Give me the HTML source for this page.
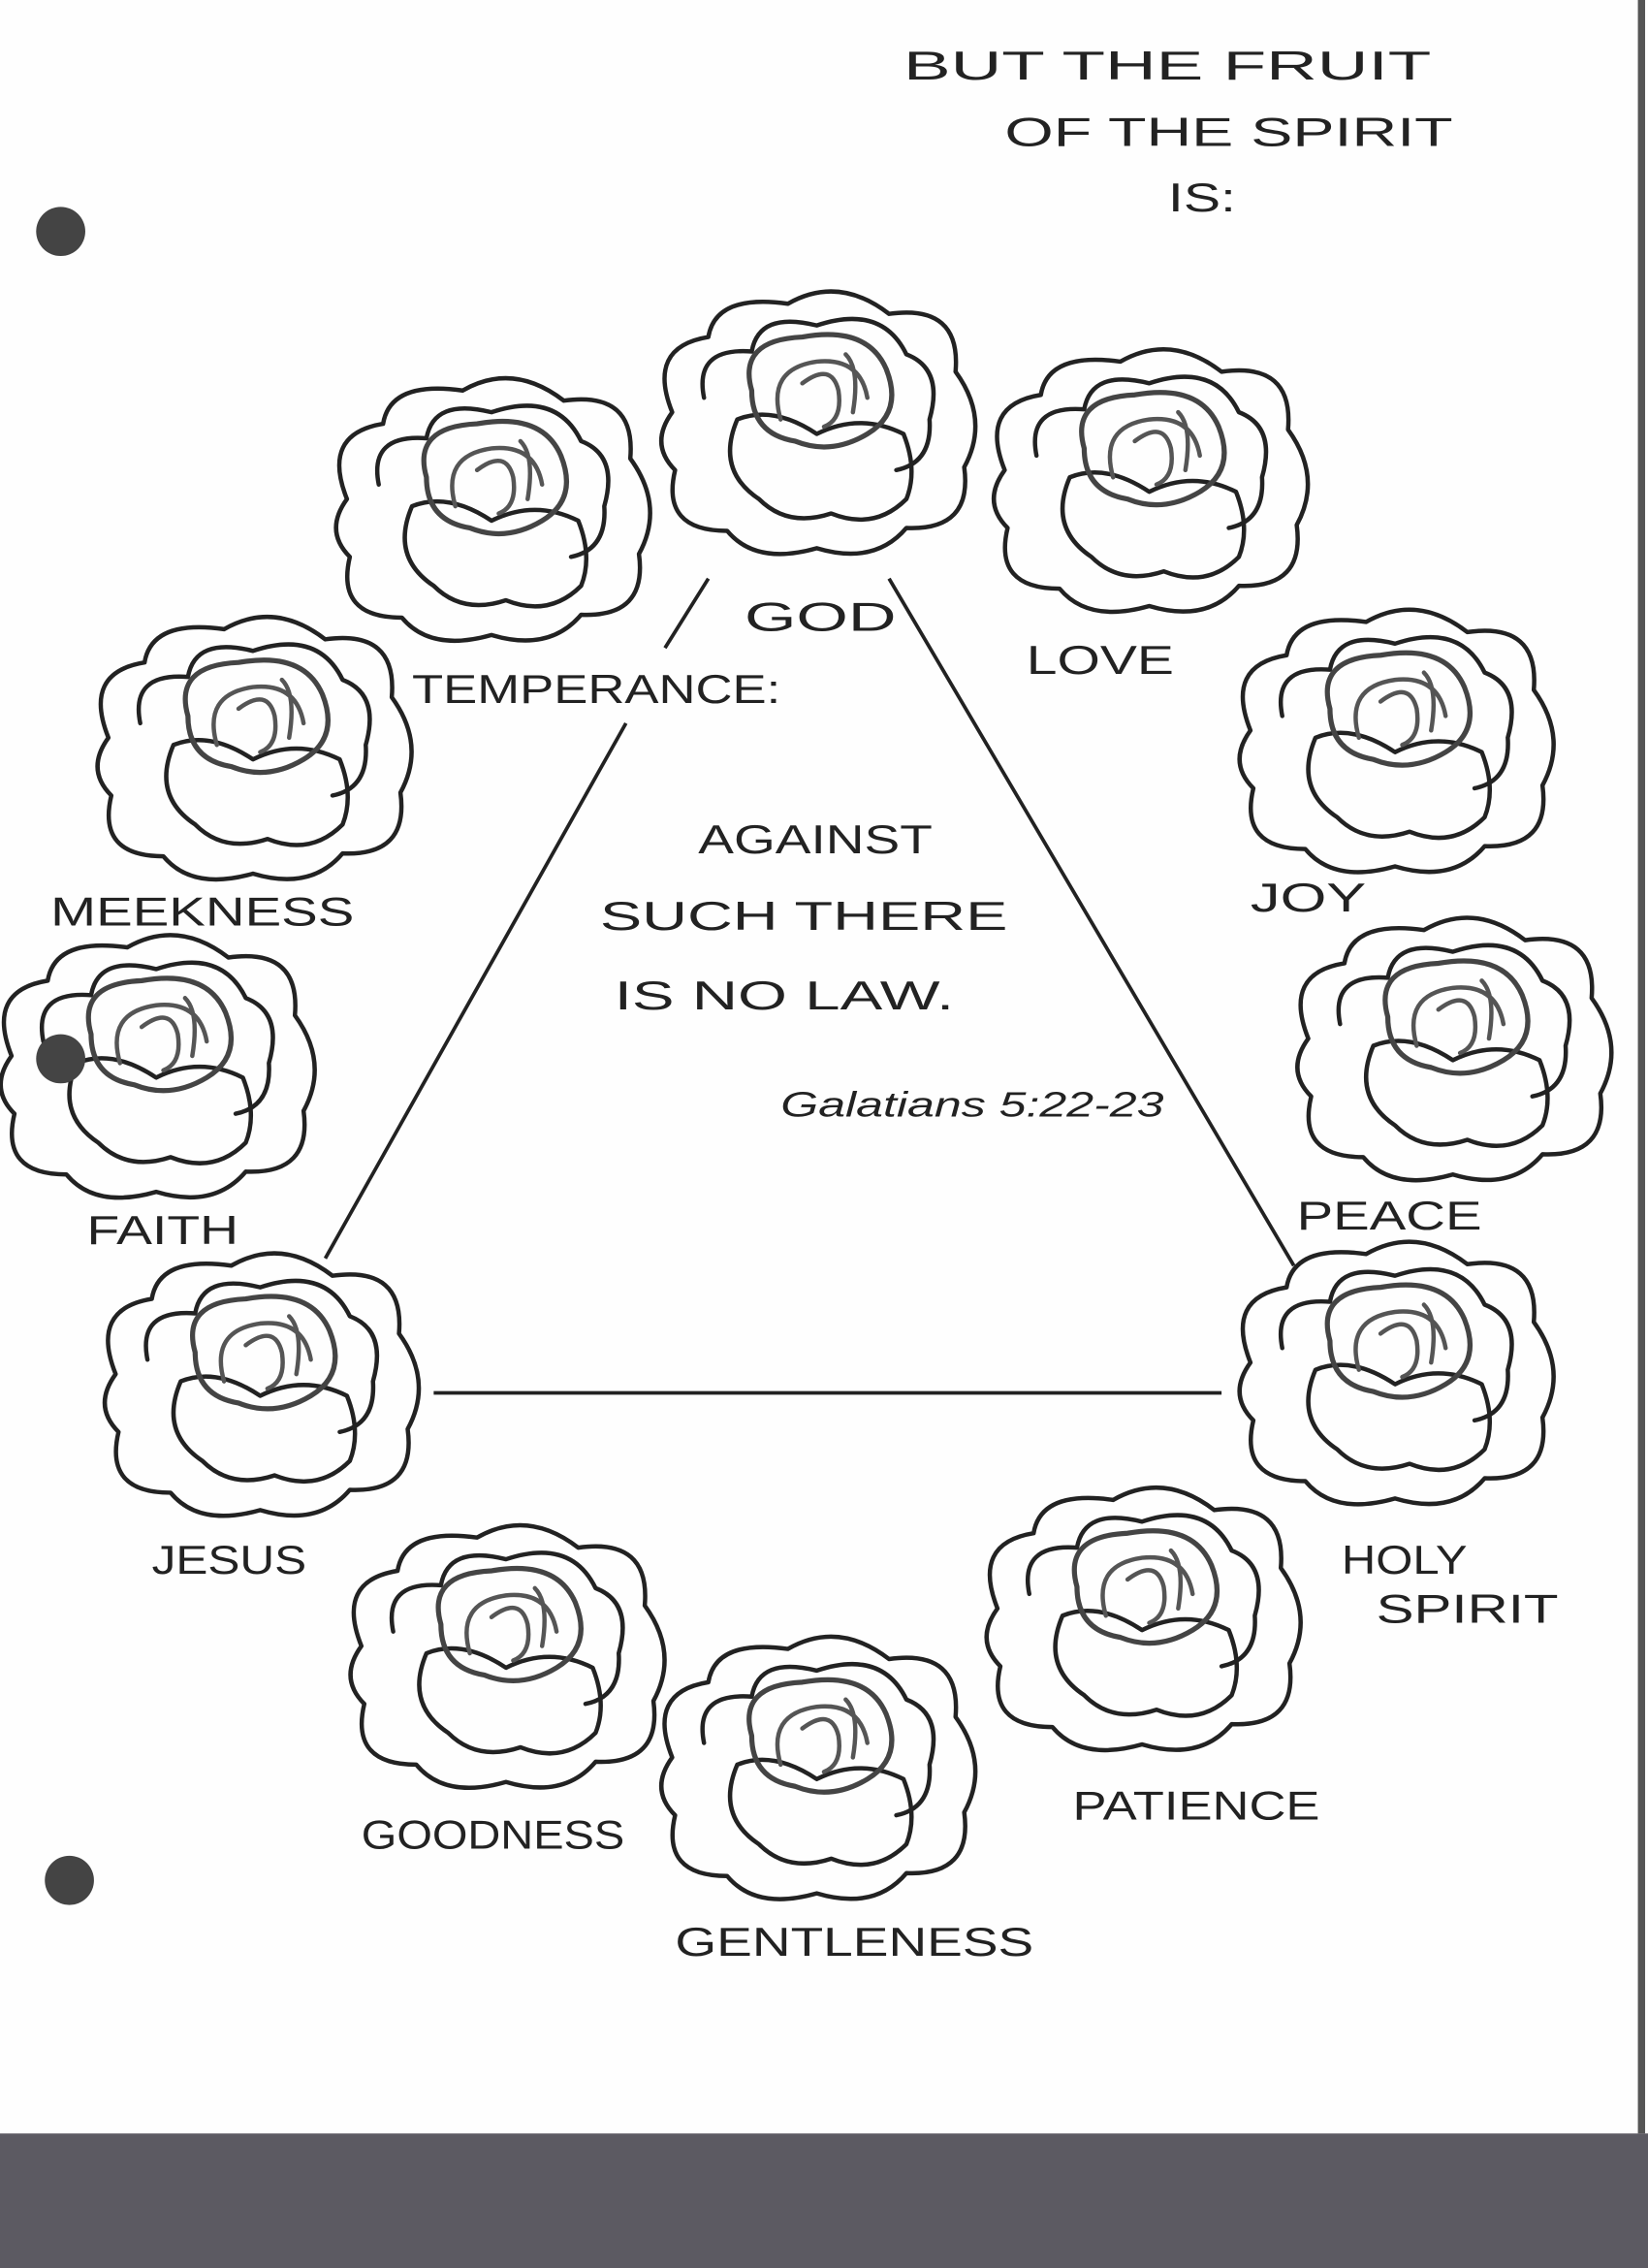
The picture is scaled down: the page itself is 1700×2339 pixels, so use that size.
<!DOCTYPE html>
<html><head><meta charset="utf-8"><style>
html,body{margin:0;padding:0;background:#fff;}
svg{display:block;}
text{font-family:"Liberation Sans",sans-serif;fill:#222;font-weight:normal;}
</style></head><body>
<svg width="1700" height="2339" viewBox="0 0 1140 1568" preserveAspectRatio="none" xmlns="http://www.w3.org/2000/svg">
<defs>
<g id="rose" fill="none" stroke-linecap="round" stroke-linejoin="round">
 <path stroke="#222" stroke-width="3" d="M -100,-10 Q -118,-55 -75,-62 Q -70,-92 -20,-85 Q 15,-105 50,-78 Q 100,-85 96,-38 Q 120,-5 102,28 Q 108,72 62,70 Q 40,96 0,84 Q -42,96 -62,72 Q -108,72 -98,30 Q -116,12 -100,-10 Z"/>
 <path stroke="#222" stroke-width="3" d="M -78,-20 Q -85,-55 -45,-52 Q -40,-80 0,-70 Q 45,-85 62,-50 Q 88,-40 78,-5 Q 80,25 55,30"/>
 <path stroke="#222" stroke-width="3" d="M -55,-5 Q -70,30 -40,50 Q -20,70 10,60 Q 40,72 62,50 Q 70,30 60,5 Q 30,-10 0,5 Q -30,-15 -55,-5 Z"/>
 <path stroke="#444" stroke-width="3.5" d="M -45,-25 Q -55,-60 -10,-62 Q 35,-70 48,-40 Q 60,-10 35,5 Q 10,20 -15,10 Q -45,5 -45,-25 Z"/>
 <path stroke="#555" stroke-width="3" d="M -25,-5 Q -35,-40 0,-45 Q 30,-48 35,-20 M -10,-30 Q 10,-45 15,-25 Q 18,-5 5,0 M 20,-50 Q 30,-40 25,-10"/>
</g>
</defs>
<rect width="1140" height="1568" fill="#fefefe"/>
<rect x="0" y="1475" width="1140" height="93" fill="#5c5a62"/>
<rect x="1133" y="0" width="5" height="1475" fill="#555"/>

<use href="#rose" transform="translate(565,295)"/>
<use href="#rose" transform="translate(795,335)"/>
<use href="#rose" transform="translate(340,355)"/>
<use href="#rose" transform="translate(175,520)"/>
<use href="#rose" transform="translate(965,515)"/>
<use href="#rose" transform="translate(108,740)"/>
<use href="#rose" transform="translate(1005,728)"/>
<use href="#rose" transform="translate(180,960)"/>
<use href="#rose" transform="translate(965,952)"/>
<use href="#rose" transform="translate(350,1148)"/>
<use href="#rose" transform="translate(790,1122)"/>
<use href="#rose" transform="translate(565,1225)"/>

<circle cx="42" cy="160" r="17" fill="#444"/>
<circle cx="42" cy="732" r="17" fill="#444"/>
<circle cx="48" cy="1300" r="17" fill="#444"/>

<g stroke="#222" stroke-width="2.5" fill="none">
 <line x1="490" y1="400" x2="460" y2="448"/>
 <line x1="433" y1="500" x2="225" y2="870"/>
 <line x1="615" y1="400" x2="895" y2="875"/>
 <line x1="300" y1="963" x2="845" y2="963"/>
</g>

<g font-size="28">
<text x="625" y="55" textLength="365" lengthAdjust="spacingAndGlyphs">BUT  THE  FRUIT</text>
<text x="695" y="101" textLength="310" lengthAdjust="spacingAndGlyphs">OF  THE  SPIRIT</text>
<text x="808" y="146" textLength="47" lengthAdjust="spacingAndGlyphs">IS:</text>
<text x="515" y="436" textLength="105" lengthAdjust="spacingAndGlyphs">GOD</text>
<text x="710" y="466" textLength="102" lengthAdjust="spacingAndGlyphs">LOVE</text>
<text x="285" y="486" textLength="255" lengthAdjust="spacingAndGlyphs">TEMPERANCE:</text>
<text x="35" y="640" textLength="210" lengthAdjust="spacingAndGlyphs">MEEKNESS</text>
<text x="865" y="630" textLength="80" lengthAdjust="spacingAndGlyphs">JOY</text>
<text x="483" y="590" textLength="162" lengthAdjust="spacingAndGlyphs">AGAINST</text>
<text x="415" y="643" textLength="282" lengthAdjust="spacingAndGlyphs">SUCH   THERE</text>
<text x="425" y="698" textLength="235" lengthAdjust="spacingAndGlyphs">IS  NO  LAW.</text>
<text x="540" y="772" font-style="italic" font-size="24" textLength="265" lengthAdjust="spacingAndGlyphs">Galatians 5:22-23</text>
<text x="60" y="860" textLength="105" lengthAdjust="spacingAndGlyphs">FAITH</text>
<text x="897" y="850" textLength="128" lengthAdjust="spacingAndGlyphs">PEACE</text>
<text x="105" y="1088" textLength="107" lengthAdjust="spacingAndGlyphs">JESUS</text>
<text x="928" y="1088" textLength="87" lengthAdjust="spacingAndGlyphs">HOLY</text>
<text x="952" y="1122" textLength="126" lengthAdjust="spacingAndGlyphs">SPIRIT</text>
<text x="742" y="1258" textLength="171" lengthAdjust="spacingAndGlyphs">PATIENCE</text>
<text x="250" y="1278" textLength="182" lengthAdjust="spacingAndGlyphs">GOODNESS</text>
<text x="467" y="1352" textLength="248" lengthAdjust="spacingAndGlyphs">GENTLENESS</text>
</g>
</svg>
</body></html>
